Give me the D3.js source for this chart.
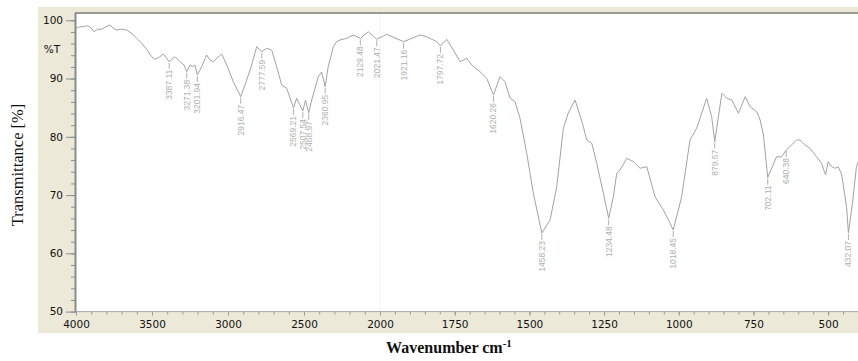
<!DOCTYPE html>
<html>
<head>
<meta charset="utf-8">
<script src="https://cdn.jsdelivr.net/npm/d3@7"></script>
<style>
  html, body { margin: 0; padding: 0; background: #fff; }
  svg { display: block; }
</style>
</head>
<body>
<svg id="chart" width="858" height="361"></svg>
<script>
// IR spectrum: wavenumber (cm-1) and transmittance (%)
const wavenumbers = [
  4000, 3973.7, 3952, 3925.7, 3903.3, 3881.6, 3859.9, 3830.9, 3802.6, 3776.3,
  3754.6, 3732.2, 3699.3, 3666.4, 3633.6, 3600.7, 3567.8, 3535.0, 3502.0, 3480.3,
  3452.0, 3425.7, 3403.3, 3387.11, 3348.7, 3315.8, 3289.5, 3271.38, 3250, 3232.2,
  3217.1, 3201.94, 3173.4, 3140.5, 3118.4, 3096.7, 3074.3, 3041.4, 3008.6, 2965.1,
  2916.47, 2877, 2844.1, 2811.2, 2777.59, 2745.4, 2712.5, 2679.6, 2646.7, 2613.8,
  2569.21, 2548, 2507.54, 2490, 2468.97, 2449.4, 2405.9, 2383.6, 2360.95, 2340.8,
  2307.2, 2284.9, 2263.2, 2219.1, 2175.7, 2129.48, 2077, 2021.47, 1989, 1977.6,
  1921.16, 1866, 1843.6, 1810.2, 1797.72, 1776.7, 1754.6, 1732.1, 1709.7, 1693,
  1665.2, 1642.7, 1620.26, 1598.2, 1581.5, 1564.7, 1548, 1531.3, 1508.8, 1486.7,
  1458.23, 1430.8, 1408.4, 1386.3, 1369.6, 1347.1, 1336, 1319.3, 1308, 1291.2,
  1274.4, 1252.3, 1234.48, 1218.8, 1207.5, 1196.4, 1174, 1151.8, 1129.4, 1107,
  1079.3, 1051.5, 1029, 1018.45, 990.2, 962.4, 940, 906.6, 889.8, 879.57,
  855.6, 838.9, 822.2, 800.1, 777.7, 761, 738.6, 727.6, 716.4, 702.11,
  672.6, 655.9, 640.38, 622.4, 605.6, 594.6, 577.8, 561.1, 538.7, 522,
  508.6, 499.9, 488.5, 477.5, 466.4, 455, 438.3, 432.07, 418.6, 405.2, 400
];
const transmittance = [
  98.63, 98.90, 98.90, 99.07, 98.80, 98.04, 98.46, 98.46, 98.90, 99.19,
  98.63, 98.33, 98.46, 98.33, 97.77, 96.91, 96.05, 95.02, 93.75, 93.31,
  93.65, 94.22, 93.48, 92.89, 93.75, 92.89, 92.33, 91.18, 92.33, 92.04,
  92.33, 90.61, 92.04, 94.04, 93.19, 92.89, 93.48, 94.22, 92.33, 89.46,
  86.89, 89.75, 92.33, 95.47, 94.61, 95.19, 94.90, 92.04, 88.89, 88.33,
  84.95, 86.61, 84.43, 86.32, 84.09, 86.32, 90.32, 91.13, 88.60, 92.04,
  95.47, 96.33, 96.62, 96.91, 97.48, 96.91, 98.04, 96.74, 97.31, 97.60,
  96.33, 97.48, 97.18, 96.33, 95.59, 96.74, 94.90, 92.89, 93.48, 92.33,
  91.18, 90.04, 87.18, 90.32, 89.46, 86.61, 86.03, 83.18, 77.17, 70.30,
  63.49, 65.72, 71.44, 81.46, 84.09, 86.32, 84.60, 81.74, 79.45, 78.89,
  75.45, 70.30, 66.01, 69.72, 73.74, 74.31, 76.31, 75.73, 74.61, 74.87,
  69.72, 67.44, 65.16, 64.00, 69.72, 79.45, 81.46, 86.61, 83.45, 79.16,
  87.47, 86.61, 86.32, 84.04, 86.89, 85.17, 84.31, 82.89, 80.31, 73.02,
  76.59, 76.54, 77.74, 78.60, 79.45, 79.45, 78.60, 78.03, 76.59, 75.45,
  73.45, 75.73, 74.87, 74.60, 74.82, 73.62, 68.00, 63.49, 68.59, 74.87, 75.68
];

// Annotated band positions (cm-1)
const peakLabels = [
  3387.11, 3271.38, 3201.94, 2916.47, 2777.59, 2569.21, 2507.54, 2468.97,
  2360.95, 2129.48, 2021.47, 1921.16, 1797.72, 1620.26, 1458.23, 1234.48,
  1018.45, 879.57, 702.11, 640.38, 432.07
];

// Axis ticks
const yTicks = [50, 60, 70, 80, 90, 100];
const xTicks = [4000, 3500, 3000, 2500, 2000, 1750, 1500, 1250, 1000, 750, 500];

const svg = d3.select("#chart");
const W = 858, H = 361;
const plot = { left: 76, top: 13, right: 858, bottom: 311.6 };

// Compressed scale above 2000 cm-1, as usual for FT-IR plots
const x = d3.scaleLinear().domain([4000, 2000, 400]).range([plot.left, 380, plot.right]);
const y = d3.scaleLinear().domain([50, 100]).range([plot.bottom, 20.3]);

// Window-style panel
svg.append("rect").attr("x", 0).attr("y", 0).attr("width", W).attr("height", H).attr("fill", "#fff");
svg.append("rect").attr("x", 38).attr("y", 7).attr("width", W - 38).attr("height", 326).attr("fill", "#ece9d8");
svg.append("rect").attr("x", plot.left).attr("y", plot.top)
  .attr("width", plot.right - plot.left).attr("height", plot.bottom - plot.top).attr("fill", "#fff");

svg.append("defs").append("clipPath").attr("id", "plotclip")
  .append("rect").attr("x", plot.left).attr("y", plot.top)
  .attr("width", plot.right - plot.left).attr("height", plot.bottom - plot.top);

// Scale-break marker
svg.append("line")
  .attr("x1", x(2000)).attr("x2", x(2000)).attr("y1", plot.top).attr("y2", plot.bottom)
  .attr("stroke", "#f3f3f3").attr("stroke-width", 1);

// Y axis
const yMinor = d3.range(50, 100.1, 2);
const gyMinor = svg.append("g").attr("transform", `translate(${plot.left},0)`)
  .call(d3.axisLeft(y).tickValues(yMinor).tickSize(5).tickFormat(""));
gyMinor.select(".domain").remove();
gyMinor.selectAll("line").attr("stroke", "#8c8c8c");

const gy = svg.append("g").attr("transform", `translate(${plot.left},0)`)
  .call(d3.axisLeft(y).tickValues(yTicks).tickSize(10).tickPadding(3));
gy.select(".domain").remove();
gy.selectAll("line").attr("stroke", "#8c8c8c");
gy.selectAll("text").attr("font-family", "DejaVu Sans, sans-serif").attr("font-size", 10.5).attr("fill", "#111");

// X axis
const xMinor = d3.range(4000, 2000, -100).concat(d3.range(2000, 399, -50));
const gxMinor = svg.append("g").attr("transform", `translate(0,${plot.bottom})`)
  .call(d3.axisBottom(x).tickValues(xMinor).tickSize(3).tickFormat(""));
gxMinor.select(".domain").remove();
gxMinor.selectAll("line").attr("stroke", "#9a9a9a");

const gx = svg.append("g").attr("transform", `translate(0,${plot.bottom})`)
  .call(d3.axisBottom(x).tickValues(xTicks).tickSize(4).tickPadding(5).tickFormat(d3.format("d")));
gx.select(".domain").remove();
gx.selectAll("line").attr("stroke", "#9a9a9a");
gx.selectAll("text").attr("font-family", "DejaVu Sans, sans-serif").attr("font-size", 10.5).attr("fill", "#111");

// Plot frame (sunken look: top and left darker, bottom axis line)
svg.append("line").attr("x1", plot.left - 1).attr("x2", plot.right).attr("y1", plot.top).attr("y2", plot.top)
  .attr("stroke", "#9b9b93").attr("stroke-width", 2);
svg.append("line").attr("x1", plot.left - 0.5).attr("x2", plot.left - 0.5).attr("y1", plot.top).attr("y2", plot.bottom + 0.5)
  .attr("stroke", "#8a8a8a").attr("stroke-width", 2);
svg.append("line").attr("x1", plot.left).attr("x2", plot.right).attr("y1", plot.bottom).attr("y2", plot.bottom)
  .attr("stroke", "#a8a8a8").attr("stroke-width", 1);

svg.append("text").attr("x", 52).attr("y", 49).attr("dy", "0.35em")
  .attr("text-anchor", "middle").attr("font-family", "DejaVu Sans, sans-serif")
  .attr("font-size", 10.5).attr("fill", "#111").text("%T");

// Spectrum trace
const pts = wavenumbers.map((w, i) => [w, transmittance[i]]);
svg.append("path")
  .datum(pts)
  .attr("clip-path", "url(#plotclip)")
  .attr("fill", "none")
  .attr("stroke", "#a2a2a2")
  .attr("stroke-width", 1)
  .attr("d", d3.line().x(d => x(d[0])).y(d => y(d[1])));

// Band annotations: short leader plus vertical value label below each band
const tAt = w => {
  const i = wavenumbers.findIndex(v => Math.abs(v - w) < 1e-6);
  return transmittance[i];
};
const ann = svg.append("g").attr("clip-path", "url(#plotclip)");
peakLabels.forEach(w => {
  const px = x(w), py = y(tAt(w));
  ann.append("line")
    .attr("x1", px).attr("x2", px).attr("y1", py + 1).attr("y2", py + 7)
    .attr("stroke", "#b0b0b0").attr("stroke-width", 1);
  ann.append("text")
    .attr("transform", `translate(${px},${py + 8}) rotate(-90)`)
    .attr("text-anchor", "end")
    .attr("dy", "0.35em")
    .attr("font-family", "Liberation Sans, Arial, sans-serif")
    .attr("font-size", 8.5)
    .attr("fill", "#afafaf")
    .text(w.toFixed(2));
});

// Axis titles
svg.append("text")
  .attr("transform", "translate(23,165) rotate(-90)")
  .attr("text-anchor", "middle")
  .attr("font-family", "Liberation Serif, Times New Roman, serif")
  .attr("font-size", 16.5)
  .attr("fill", "#111")
  .text("Transmittance [%]");

const xt = svg.append("text")
  .attr("x", 449).attr("y", 353)
  .attr("text-anchor", "middle")
  .attr("font-family", "Liberation Serif, Times New Roman, serif")
  .attr("font-size", 16)
  .attr("font-weight", "bold")
  .attr("fill", "#111");
xt.append("tspan").text("Wavenumber cm");
xt.append("tspan").attr("dy", -6).attr("font-size", 11).text("-1");
</script>
</body>
</html>
